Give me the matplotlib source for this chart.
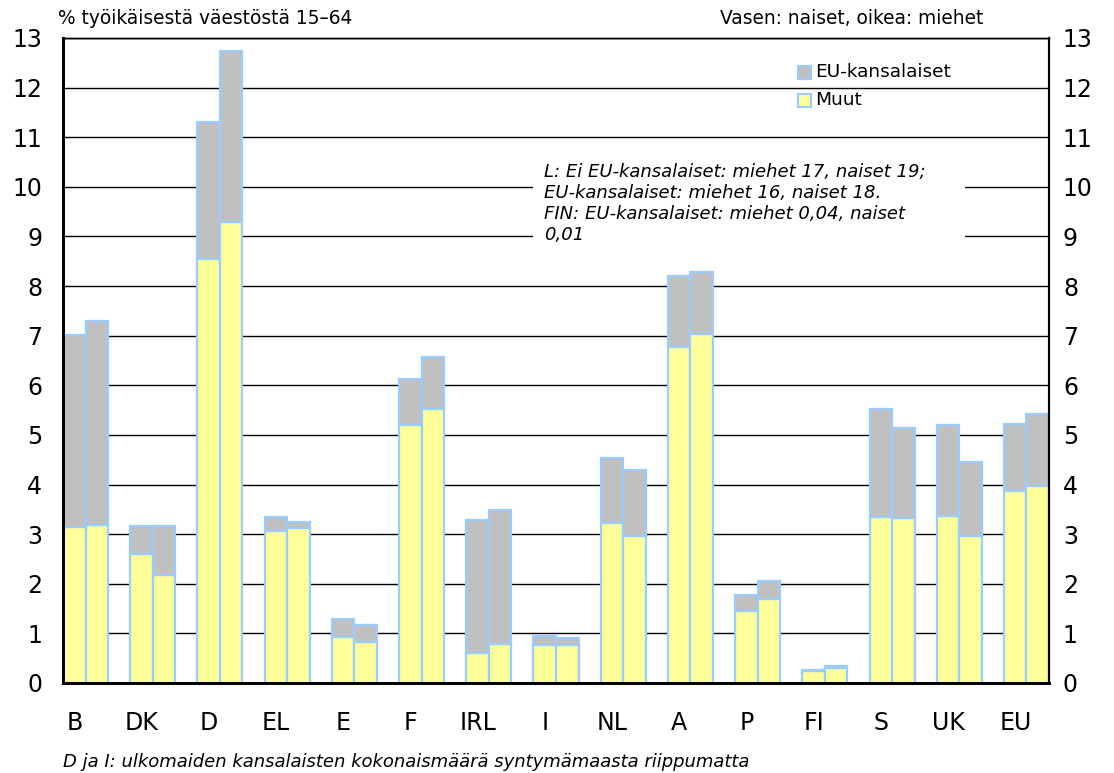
import numpy as np
import matplotlib
matplotlib.use("Agg")
import matplotlib.pyplot as plt
from matplotlib.patches import Rectangle

plt.rcParams['font.family'] = ['DejaVu Sans']

maat = ['B', 'DK', 'D', 'EL', 'E', 'F', 'IRL', 'I', 'NL', 'A', 'P', 'FI', 'S', 'UK', 'EU']

# naiset (vasen palkki)
naiset_muut = [3.15, 2.59, 8.55, 3.06, 0.93, 5.21, 0.60, 0.76, 3.23, 6.78, 1.46, 0.25, 3.35, 3.37, 3.86]
naiset_yht = [7.02, 3.16, 11.31, 3.35, 1.30, 6.12, 3.29, 0.94, 4.54, 8.21, 1.77, 0.26, 5.53, 5.20, 5.22]
# miehet (oikea palkki)
miehet_muut = [3.18, 2.17, 9.29, 3.12, 0.82, 5.53, 0.78, 0.77, 2.96, 7.04, 1.69, 0.30, 3.32, 2.96, 3.98]
miehet_yht = [7.30, 3.16, 12.74, 3.24, 1.16, 6.57, 3.49, 0.90, 4.29, 8.29, 2.06, 0.34, 5.14, 4.45, 5.42]

naiset_eu = np.array(naiset_yht) - np.array(naiset_muut)
miehet_eu = np.array(miehet_yht) - np.array(miehet_muut)

HARMAA = '#C0C0C0'
KELTA = '#FFFF99'
REUNA = '#99CCFF'

W, H = 1114, 773
fig = plt.figure(figsize=(W / 100, H / 100), dpi=100)
ax = fig.add_axes([63 / W, 1 - 683 / H, (1049 - 63) / W, (683 - 38) / H])

x = np.arange(len(maat))
bw = 0.335
kw = dict(width=bw, align='edge', edgecolor=REUNA, linewidth=1.6, zorder=2)
ax.bar(x, naiset_muut, color=KELTA, **kw)
ax.bar(x, naiset_eu, bottom=naiset_muut, color=HARMAA, **kw)
ax.bar(x + bw, miehet_muut, color=KELTA, **kw)
ax.bar(x + bw, miehet_eu, bottom=miehet_muut, color=HARMAA, **kw)

ax.set_xlim(0, len(maat) - 1 + 2 * bw)
ax.set_ylim(0, 13)
ax.set_yticks(range(14))
for y in range(1, 14):
    ax.axhline(y, color='black', linewidth=1.0, zorder=1)

ax.set_xticks(x + 0.17)
ax.set_xticklabels(maat, fontsize=17)
ax.tick_params(axis='x', length=0, pad=20)
ax.tick_params(axis='y', length=0, pad=15, labelsize=17)

# oikean reunan asteikko
ax2 = ax.twinx()
ax2.set_ylim(ax.get_ylim())
ax2.set_yticks(range(14))
ax2.tick_params(axis='y', length=0, pad=10, labelsize=17)

for a in (ax, ax2):
    for s in ['left', 'bottom']:
        a.spines[s].set_linewidth(2.0)
    a.spines['right'].set_linewidth(1.5)
    a.spines['top'].set_linewidth(1.0)

# huomautuslaatikko, alareuna leikattu
laatikko = Rectangle((533 / W, 1 - 240 / H), (965 - 533) / W, (240 - 158) / H,
                     transform=fig.transFigure, facecolor='white', edgecolor='none', zorder=3)
ax.add_patch(laatikko)
huom = ax.text(544 / W, 1 - 163 / H,
               'L: Ei EU-kansalaiset: miehet 17, naiset 19;\n'
               'EU-kansalaiset: miehet 16, naiset 18.\n'
               'FIN: EU-kansalaiset: miehet 0,04, naiset\n'
               '0,01',
               transform=fig.transFigure, fontsize=13, style='italic',
               va='top', ha='left', linespacing=1.22, zorder=4)
huom.set_clip_path(laatikko)

# selite
for i, (vari, nimi) in enumerate([(HARMAA, 'EU-kansalaiset'), (KELTA, 'Muut')]):
    yk = 72 + i * 28
    fig.add_artist(Rectangle((798 / W, 1 - (yk + 6.5) / H), 13 / W, 13 / H,
                             facecolor=vari, edgecolor=REUNA, linewidth=1.5,
                             transform=fig.transFigure))
    fig.text(815 / W, 1 - yk / H, nimi, fontsize=13.3, va='center', ha='left')

fig.text(58 / W, 1 - 19 / H, '% työikäisestä väestöstä 15–64', fontsize=13.4, va='center', ha='left')
fig.text(983 / W, 1 - 19 / H, 'Vasen: naiset, oikea: miehet', fontsize=13.4, va='center', ha='right')
fig.text(63 / W, 1 - 762 / H,
         'D ja I: ulkomaiden kansalaisten kokonaismäärä syntymämaasta riippumatta',
         fontsize=13, style='italic', va='center', ha='left')

fig.savefig('out.png', dpi=100)
